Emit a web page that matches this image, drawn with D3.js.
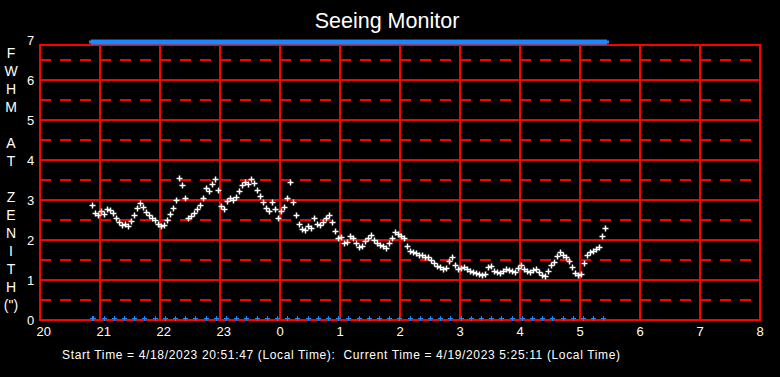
<!DOCTYPE html>
<html>
<head>
<meta charset="utf-8">
<script src="https://cdn.jsdelivr.net/npm/d3@7"></script>
<style>
  html, body { margin: 0; padding: 0; background: #000; }
  svg { display: block; }
  text { font-family: "Liberation Sans", Arial, sans-serif; fill: #fff; }
</style>
</head>
<body>
<div id="chart"></div>
<script>
// FWHM samples, time in minutes after 20:00 local (4/18/2023)
const sampleMinutes = [
  52, 55, 58, 61, 64, 67, 70, 73, 76, 79, 82, 85, 88, 91, 94, 97, 100, 103, 106, 109,
  112, 115, 118, 121, 124, 127, 130, 133, 136, 139, 142, 145, 148, 151, 154, 157, 160, 163, 166, 169,
  172, 175, 178, 181, 184, 187, 190, 193, 196, 199, 202, 205, 208, 211, 214, 217, 220, 223, 226, 229,
  232, 235, 238, 241, 244, 247, 250, 253, 256, 259, 262, 265, 268, 271, 274, 277, 280, 283, 286, 289,
  292, 295, 298, 301, 304, 307, 310, 313, 316, 319, 322, 325, 328, 331, 334, 337, 340, 343, 346, 349,
  352, 355, 358, 361, 364, 367, 370, 373, 376, 379, 382, 385, 388, 391, 394, 397, 400, 403, 406, 409,
  412, 415, 418, 421, 424, 427, 430, 433, 436, 439, 442, 445, 448, 451, 454, 457, 460, 463, 466, 469,
  472, 475, 478, 481, 484, 487, 490, 493, 496, 499, 502, 505, 508, 511, 514, 517, 520, 523, 526, 529,
  532, 535, 538, 541, 544, 547, 550, 553, 556, 559, 562, 565
];
const fwhm = [
  2.88, 2.68, 2.62, 2.72, 2.65, 2.78, 2.75, 2.68, 2.55, 2.45, 2.38, 2.40, 2.36, 2.48, 2.62, 2.80, 2.93, 2.82, 2.70, 2.62,
  2.55, 2.50, 2.40, 2.35, 2.38, 2.50, 2.65, 2.80, 3.00, 3.55, 3.38, 3.05, 2.55, 2.60, 2.68, 2.78, 2.88, 3.05, 3.30, 3.22,
  3.40, 3.52, 3.25, 2.85, 2.78, 2.98, 3.05, 3.00, 3.08, 3.22, 3.38, 3.45, 3.40, 3.52, 3.42, 3.25, 3.10, 2.95, 2.80, 2.72,
  2.95, 2.78, 2.55, 2.72, 2.82, 3.05, 3.45, 2.95, 2.62, 2.40, 2.28, 2.25, 2.35, 2.30, 2.55, 2.40, 2.38, 2.45, 2.55, 2.62,
  2.45, 2.22, 2.05, 2.08, 1.92, 1.95, 2.10, 2.05, 1.92, 1.82, 1.85, 1.98, 2.05, 2.12, 2.00, 1.92, 1.88, 1.84, 1.80, 1.92,
  2.05, 2.20, 2.15, 2.10, 2.05, 1.85, 1.72, 1.70, 1.68, 1.62, 1.62, 1.58, 1.58, 1.50, 1.42, 1.35, 1.32, 1.28, 1.30, 1.48,
  1.58, 1.38, 1.28, 1.30, 1.32, 1.28, 1.22, 1.20, 1.18, 1.15, 1.12, 1.15, 1.32, 1.35, 1.22, 1.20, 1.18, 1.22, 1.28, 1.25,
  1.22, 1.20, 1.30, 1.38, 1.28, 1.22, 1.20, 1.25, 1.28, 1.20, 1.12, 1.10, 1.22, 1.38, 1.45, 1.60, 1.70, 1.62, 1.58, 1.48,
  1.32, 1.18, 1.12, 1.15, 1.42, 1.62, 1.70, 1.72, 1.78, 1.82, 2.10, 2.30
];
// ten-minute image marks along the bottom, minutes after 20:00
const markMinutes = [
  52, 53, 64, 74, 84, 94, 104, 115, 125, 135, 145, 155, 166, 176, 186, 196, 206, 217, 227, 237,
  247, 257, 268, 278, 288, 298, 308, 319, 329, 339, 349, 359, 370, 380, 390, 400, 410, 421, 431, 441,
  451, 461, 472, 482, 492, 502, 512, 523, 533, 543, 553, 563
];
const hourTicks = [20, 21, 22, 23, 24, 25, 26, 27, 28, 29, 30, 31, 32];
const fwhmTicks = [0, 1, 2, 3, 4, 5, 6, 7];
const halfTicks = [0.5, 1.5, 2.5, 3.5, 4.5, 5.5, 6.5];
const axisLetters = ['F', 'W', 'H', 'M', '', 'A', 'T', '', 'Z', 'E', 'N', 'I', 'T', 'H', '(")'];
const titleText = 'Seeing Monitor';
const footerText = 'Start Time = 4/18/2023 20:51:47 (Local Time):  Current Time = 4/19/2023 5:25:11 (Local Time)';

const W = 780, H = 377;
const plot = { left: 40, right: 760, top: 45, bottom: 320 };
const red = '#ff0000', blue = '#1a88ff';

const svg = d3.select('#chart').append('svg')
  .attr('width', W)
  .attr('height', H)
  .style('background', '#000');

const x = d3.scaleLinear().domain([20, 32]).range([plot.left, plot.right]);
const y = d3.scaleLinear().domain([0, 7]).range([plot.bottom, 40]);
const toHour = m => 20 + m / 60;

// title
svg.append('text')
  .attr('x', 387).attr('y', 28)
  .attr('text-anchor', 'middle')
  .style('font-size', '21.5px')
  .text(titleText);

// grid
const grid = svg.append('g').attr('stroke', red).attr('stroke-width', 2).attr('fill', 'none');
grid.selectAll('.hgrid').data(fwhmTicks.filter(v => v > 0 && v < 7)).join('line')
  .attr('x1', plot.left).attr('x2', plot.right)
  .attr('y1', d => y(d)).attr('y2', d => y(d));
grid.selectAll('.dgrid').data(halfTicks).join('line')
  .attr('class', 'dgrid')
  .attr('x1', plot.left).attr('x2', plot.right)
  .attr('y1', d => y(d)).attr('y2', d => y(d))
  .attr('stroke-dasharray', '11,9');
grid.selectAll('.vgrid').data(hourTicks.slice(1, -1)).join('line')
  .attr('class', 'vgrid')
  .attr('x1', d => x(d)).attr('x2', d => x(d))
  .attr('y1', plot.top).attr('y2', plot.bottom);
grid.append('rect')
  .attr('x', plot.left).attr('y', plot.top)
  .attr('width', plot.right - plot.left)
  .attr('height', plot.bottom - plot.top);

// axes
const xAxis = d3.axisBottom(x).tickValues(hourTicks).tickSize(0).tickFormat(d => d % 24);
const xAxisGroup = svg.append('g').attr('transform', `translate(0,${plot.bottom})`).call(xAxis);
xAxisGroup.select('.domain').remove();
xAxisGroup.selectAll('text')
  .attr('text-anchor', 'start').attr('x', -4).attr('y', 16).attr('dy', null)
  .style('font-size', '13px').attr('fill', '#fff');

const yAxis = d3.axisLeft(y).tickValues(fwhmTicks).tickSize(0).tickFormat(d3.format('d'));
const yAxisGroup = svg.append('g').attr('transform', `translate(${plot.left},0)`).call(yAxis);
yAxisGroup.select('.domain').remove();
yAxisGroup.selectAll('text')
  .attr('text-anchor', 'start').attr('x', -13).attr('dy', '0.34em')
  .style('font-size', '13px').attr('fill', '#fff');

// vertical axis title, one letter per line
svg.append('g').selectAll('text').data(axisLetters).join('text')
  .attr('x', 11).attr('y', (d, i) => 58 + i * 18)
  .attr('text-anchor', 'middle')
  .style('font-size', '14px')
  .text(d => d);

// markers
const plus = 'M-3,0H3M0,-3V3';
const px = v => Math.round(v) + 0.5;

svg.append('g').attr('stroke', blue).attr('stroke-width', 3)
  .selectAll('path').data(sampleMinutes).join('path')
  .attr('d', 'M-3.5,0H3.5M0,-2.5V2.5')
  .attr('transform', d => `translate(${px(x(toHour(d)))},${y(6.95)})`);

svg.append('g').attr('stroke', blue).attr('stroke-width', 1)
  .selectAll('path').data(markMinutes).join('path')
  .attr('d', 'M-2.5,0H2.5M0,-2.5V2.5')
  .attr('transform', d => `translate(${px(x(toHour(d)))},${px(y(0.05))})`);

svg.append('g').attr('stroke', '#fff').attr('stroke-width', 1.5)
  .selectAll('path').data(sampleMinutes).join('path')
  .attr('d', plus)
  .attr('transform', (d, i) => `translate(${px(x(toHour(d)))},${px(y(fwhm[i]))})`);

// footer
svg.append('text')
  .attr('x', 62).attr('y', 359)
  .attr('textLength', 558).attr('lengthAdjust', 'spacing')
  .style('font-size', '12px')
  .style('white-space', 'pre')
  .text(footerText);
</script>
</body>
</html>
